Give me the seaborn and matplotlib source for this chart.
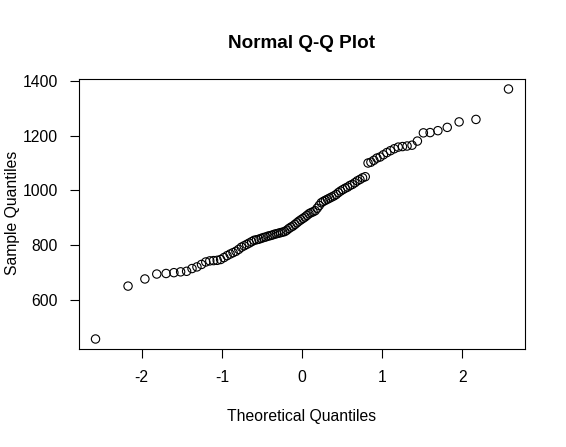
import numpy as np
import pandas as pd
import matplotlib
matplotlib.use("Agg")
import matplotlib.pyplot as plt
import seaborn as sns
from statistics import NormalDist

# sorted sample values (n = 100)
sample_low = [458, 651, 677, 695, 697, 700, 703, 705, 715, 721,
              730, 739, 743, 744, 745, 748, 755, 762, 768, 773]
sample_mid = [778, 785, 793, 798, 803, 808, 813, 818, 820, 822,
              825, 828, 830, 833, 835, 837, 840, 842, 844, 846,
              848, 850, 855, 861, 866, 870, 876, 882, 888, 893,
              898, 903, 909, 915, 919, 922, 926, 935, 945, 955,
              960, 964, 968, 972, 976, 980, 985, 992, 998, 1003]
sample_high = [1008, 1012, 1018, 1022, 1028, 1035, 1040, 1046, 1050,
               1100, 1103, 1110, 1118, 1122, 1130, 1138, 1145, 1152, 1158,
               1160, 1162, 1165, 1180, 1210, 1211, 1218, 1230, 1250, 1259,
               1370]
x_ticks = [-2, -1, 0, 1, 2]
y_ticks = [600, 800, 1000, 1200, 1400]

sample = np.array(sample_low + sample_mid + sample_high, dtype=float)
n = len(sample)
# theoretical normal quantiles, as qqnorm does (ppoints with a = 0.5)
theo = np.array([NormalDist().inv_cdf((i - 0.5) / n) for i in range(1, n + 1)])
df = pd.DataFrame({"theoretical": theo, "sample": sample})

sns.set_style("ticks")
plt.rcParams["font.family"] = ["Liberation Sans", "DejaVu Sans"]
plt.rcParams["text.color"] = "black"

fig = plt.figure(figsize=(5.66, 4.47), dpi=100)
W, H = 566, 447
ax = fig.add_axes([79 / W, 1 - 349 / H, (525 - 79) / W, (349 - 79) / H])

sns.scatterplot(data=df, x="theoretical", y="sample", ax=ax,
                marker="o", s=36, facecolor="none", edgecolor="black",
                linewidth=0.8, legend=False)

# R style 4% extension of the data range
def ext(v):
    lo, hi = v.min(), v.max()
    d = (hi - lo) * 0.04
    return lo - d, hi + d

ax.set_xlim(*ext(theo))
ax.set_ylim(*ext(sample))
ax.set_xticks(x_ticks)
ax.set_yticks(y_ticks)
ax.set_xticklabels([str(t) for t in x_ticks])
ax.set_yticklabels([str(t) for t in y_ticks])
ax.tick_params(direction="out", length=6.5, width=0.8, pad=8.5,
               labelsize=11.3, colors="black")
for sp in ax.spines.values():
    sp.set_visible(True)
    sp.set_linewidth(0.8)
    sp.set_color("black")
ax.set_xlabel("")
ax.set_ylabel("")

fig.text(302 / W, 1 - 43 / H, "Normal Q-Q Plot", ha="center", va="center",
         fontsize=13.6, fontweight="bold", color="black")
fig.text(302 / W, 1 - 416 / H, "Theoretical Quantiles", ha="center", va="center",
         fontsize=11.3, color="black")
fig.text(13 / W, 1 - 213 / H, "Sample Quantiles", ha="center", va="center",
         rotation=90, fontsize=11.3, color="black")

fig.savefig("out.png", dpi=100, facecolor="white")
